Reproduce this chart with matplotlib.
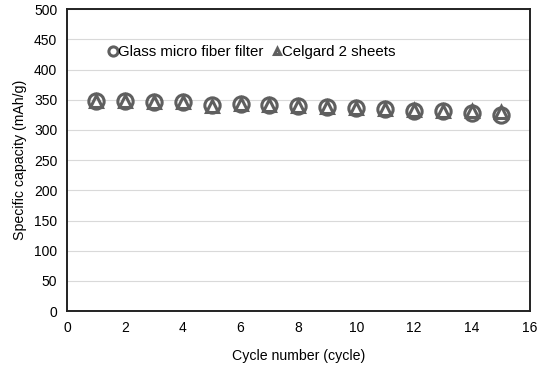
import numpy as np
import matplotlib.pyplot as plt

plt.rcParams['font.family'] = ['Liberation Sans', 'DejaVu Sans']

# cycle data
cycles = [1, 2, 3, 4, 5, 6, 7, 8, 9, 10, 11, 12, 13, 14, 15]
glass_fiber = [348, 348, 347, 346, 342, 343, 341, 340, 338, 336, 334, 332, 331, 328, 325]
celgard = [348, 348, 347, 346, 340, 343, 341, 340, 338, 336, 335, 333, 332, 331, 329]

x_ticks = [0, 2, 4, 6, 8, 10, 12, 14, 16]
y_ticks = [0, 50, 100, 150, 200, 250, 300, 350, 400, 450, 500]

mk_color = "#5f5f5f"

fig = plt.figure(figsize=(5.4, 3.66), dpi=100)
ax = fig.add_axes([0.124, 0.150, 0.857, 0.825])

ax.plot(cycles, glass_fiber, "o", markersize=11, markerfacecolor="none",
        markeredgecolor=mk_color, markeredgewidth=2.2, label="Glass micro fiber filter")
ax.plot(cycles, celgard, "^", markersize=8, markerfacecolor="none",
        markeredgecolor=mk_color, markeredgewidth=2.2, label="Celgard 2 sheets")

ax.set_xlim(0, 16)
ax.set_ylim(0, 500)
ax.set_xticks(x_ticks)
ax.set_yticks(y_ticks)
ax.tick_params(length=0, labelsize=10, pad=7)
ax.grid(axis="y", color="#d9d9d9", linewidth=0.8)
ax.set_axisbelow(True)
for s in ax.spines.values():
    s.set_linewidth(1.4)
    s.set_color("#222222")

ax.set_xlabel("Cycle number (cycle)", fontsize=10.2, labelpad=10)
ax.set_ylabel("Specific capacity (mAh/g)", fontsize=10.2, labelpad=5)

leg = ax.legend(loc="upper left", bbox_to_anchor=(0.065, 0.915), ncol=2, frameon=True,
                edgecolor="none", facecolor="white", framealpha=1, fontsize=10.8,
                handletextpad=0.0, columnspacing=0.55, handlelength=0.7, markerscale=0.6,
                borderpad=0.2)

plt.savefig("out.png", dpi=100)
